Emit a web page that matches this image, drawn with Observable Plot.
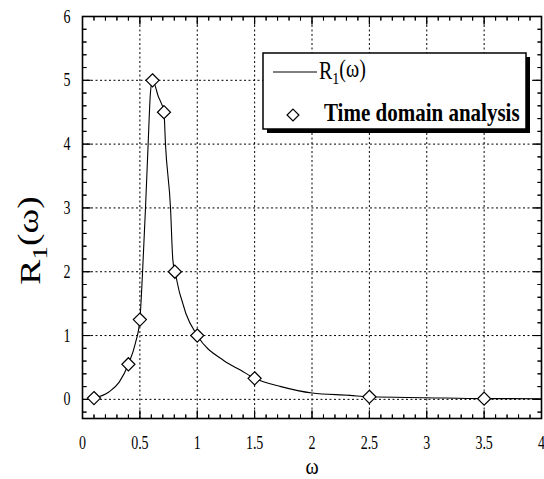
<!DOCTYPE html>
<html><head><meta charset="utf-8">
<script src="https://cdn.jsdelivr.net/npm/d3@7"></script>
<script src="https://cdn.jsdelivr.net/npm/@observablehq/plot@0.6"></script>
<style>
body{margin:0;background:#fff;}
#wrap{width:544px;height:479px;}
svg text{font-family:"Liberation Serif","Times New Roman",serif !important;}
</style></head><body><div id="wrap"></div>
<script>
// Time domain analysis markers
const markerOmega = [0.1, 0.4, 0.5, 0.61, 0.71, 0.805, 1.0, 1.5, 2.5, 3.5];
const markerR     = [0.02, 0.55, 1.25, 5.0, 4.5, 2.0, 1.0, 0.33, 0.04, 0.01];
// R1(omega) curve
const curveOmega = [0.1, 0.23, 0.32, 0.4, 0.46, 0.5, 0.523, 0.549, 0.572, 0.592, 0.61, 0.66, 0.71, 0.723, 0.767, 0.787, 0.805, 0.9, 1.0, 1.23, 1.38, 1.5, 1.73, 2.0, 2.33, 2.5, 3.0, 3.5, 4.0];
const curveR     = [0.02, 0.115, 0.27, 0.55, 0.875, 1.25, 1.98, 3.0, 4.0, 4.8, 5.0, 4.75, 4.5, 4.0, 3.0, 2.19, 2.0, 1.35, 1.0, 0.61, 0.455, 0.33, 0.2, 0.1, 0.063, 0.04, 0.026, 0.012, 0.01];
// axes
const xDomain = [0, 4];
const yDomain = [-0.3, 6];
const xTickLabels = [0, 0.5, 1, 1.5, 2, 2.5, 3, 3.5, 4];
const yTickLabels = [0, 1, 2, 3, 4, 5, 6];
const xGrid = [0.5, 1, 1.5, 2, 2.5, 3, 3.5];
const yGrid = [0, 1, 2, 3, 4, 5];
const xMinor = d3.range(1, 40).map(i => i / 10).filter(v => Math.abs(v * 2 - Math.round(v * 2)) > 1e-9);
const yMinor = d3.range(-1, 30).map(i => i / 5).filter(v => Math.abs(v - Math.round(v)) > 1e-9);
const xMajor = xTickLabels.slice(1, -1);
const yMajor = yTickLabels.slice(0, -1);
const xLabel = "ω";
const yLabel = "R1(ω)";
const legendLine = "R1(ω)";
const legendMarker = "Time domain analysis";

const markers = markerOmega.map((w, i) => ({w, r: markerR[i]}));
const curve = curveOmega.map((w, i) => ({w, r: curveR[i]}));

const tickStyle = {stroke: "#000", strokeWidth: 1, strokeLinecap: "butt", shape: "spike", r: 0, anchor: "start"};
function ticks(vals, len) {
  return [
    Plot.vector(vals.x, {...tickStyle, x: d => d, y: () => yDomain[0], length: len, rotate: 0}),
    Plot.vector(vals.x, {...tickStyle, x: d => d, y: () => yDomain[1], length: len, rotate: 180}),
    Plot.vector(vals.y, {...tickStyle, y: d => d, x: () => xDomain[0], length: len, rotate: 90}),
    Plot.vector(vals.y, {...tickStyle, y: d => d, x: () => xDomain[1], length: len, rotate: -90})
  ];
}

const chart = Plot.plot({
  width: 544, height: 479,
  marginLeft: 82, marginRight: 3, marginTop: 16, marginBottom: 61,
  x: {domain: xDomain},
  y: {domain: yDomain},
  style: {fontFamily: "'Liberation Serif', serif", fontSize: "14px", color: "#000", background: "#fff"},
  marks: [
    Plot.ruleX(xGrid, {stroke: "#000", strokeWidth: 1, strokeDasharray: "2,2.5"}),
    Plot.ruleY(yGrid, {stroke: "#000", strokeWidth: 1, strokeDasharray: "2,2.5"}),
    ...ticks({x: xMinor, y: yMinor}, 4),
    ...ticks({x: xMajor, y: yMajor}, 8),
    Plot.line(curve, {x: "w", y: "r", curve: "monotone-x", stroke: "#000", strokeWidth: 1.1}),
    Plot.dot(markers, {x: "w", y: "r", symbol: "diamond2", r: 5.9, fill: "#fff", stroke: "#000", strokeWidth: 1.2}),
    Plot.frame({stroke: "#000", strokeWidth: 1.6}),
    Plot.axisX({ticks: xTickLabels, tickSize: 0, tickPadding: 17, label: null, tickFormat: d => String(d)}),
    Plot.axisY({ticks: yTickLabels, tickSize: 0, tickPadding: 12, label: null, tickFormat: d => String(d)}),
    Plot.text([xLabel], {frameAnchor: "bottom", dy: 55, fontSize: 20, className: "xlab"}),
    Plot.text([yLabel], {frameAnchor: "left", textAnchor: "middle", dx: -52, dy: 23, rotate: -90, fontSize: 30, className: "ylab"})
  ]
});
document.getElementById("wrap").appendChild(chart);

const svg = d3.select(chart);
// vertical stretch of tick labels (the reference font is tall and narrow)
svg.selectAll("g[aria-label='x-axis tick label'] text, g[aria-label='y-axis tick label'] text").each(function() {
  const t = d3.select(this);
  t.attr("transform", (t.attr("transform") || "") + " scale(1,1.35)");
});
// subscripts in axis label
function subscript(sel, size) {
  sel.each(function() {
    const t = d3.select(this);
    const s = t.text();
    t.text(null);
    t.append("tspan").text(s[0]);
    t.append("tspan").attr("dy", "0.3em").attr("font-size", size).text(s[1]);
    t.append("tspan").attr("dy", "-0.3em").text(s.slice(2));
  });
}
const ylab = svg.selectAll(".ylab text");
subscript(ylab, 22);
ylab.attr("transform", function() { return d3.select(this).attr("transform") + " scale(1.25,1)"; });
svg.selectAll(".xlab text").attr("transform", function() { return (d3.select(this).attr("transform") || "") + " scale(1,1.2)"; });

// legend
const lg = svg.append("g").attr("text-anchor", "start");
const L = 263, T = 53, LW = 263, LH = 76;
lg.append("rect").attr("x", L + 4).attr("y", T + 4).attr("width", LW).attr("height", LH).attr("fill", "#000");
lg.append("rect").attr("x", L).attr("y", T).attr("width", LW).attr("height", LH).attr("fill", "#fff").attr("stroke", "#000").attr("stroke-width", 1.5);
lg.append("line").attr("x1", L + 10).attr("x2", L + 54).attr("y1", T + 19).attr("y2", T + 19).attr("stroke", "#000").attr("stroke-width", 1.1);
const t1 = lg.append("text").attr("font-size", 20)
  .attr("transform", `translate(${L + 56},${T + 26}) scale(1,1.25)`);
t1.append("tspan").text(legendLine[0]);
t1.append("tspan").attr("dy", "0.3em").attr("font-size", 14).text(legendLine[1]);
t1.append("tspan").attr("dy", "-0.3em").text(legendLine.slice(2));
lg.append("path").attr("d", d3.symbol(d3.symbolDiamond2, 90)())
  .attr("transform", `translate(${L + 30},${T + 62})`).attr("fill", "#fff").attr("stroke", "#000").attr("stroke-width", 1.2);
lg.append("text").attr("font-size", 21).attr("font-weight", "bold")
  .attr("transform", `translate(${L + 61},${T + 68}) scale(1,1.2)`).text(legendMarker);
</script>
</body></html>
